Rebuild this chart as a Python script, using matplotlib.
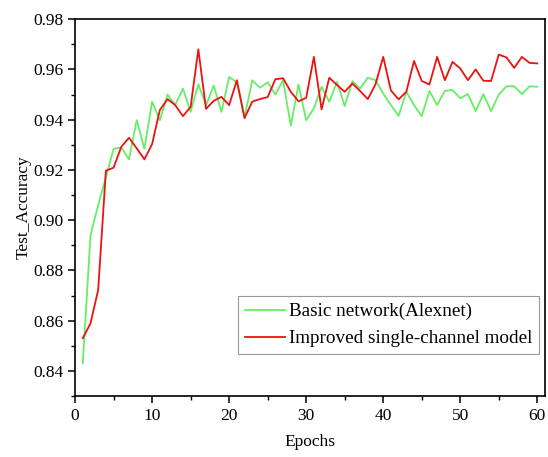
import numpy as np
import matplotlib.pyplot as plt
from matplotlib.ticker import MultipleLocator

plt.rcParams['font.family'] = ['Liberation Serif', 'DejaVu Serif']

epochs = np.arange(1, 61)

# Basic network (Alexnet)
basic = [0.843, 0.894, 0.906, 0.917, 0.9284, 0.9289, 0.9242, 0.9398, 0.9284, 0.9471,
         0.9398, 0.9500, 0.9458, 0.9524, 0.9431, 0.9541, 0.9458, 0.9536, 0.9431, 0.9570,
         0.9548, 0.9410, 0.9557, 0.9527, 0.9549, 0.9500, 0.9557, 0.9376, 0.9540, 0.9398,
         0.9445, 0.9531, 0.9471, 0.9551, 0.9454, 0.9553, 0.9524, 0.9567, 0.9557, 0.9504,
         0.9458, 0.9415, 0.9511, 0.9458, 0.9414, 0.9514, 0.9458, 0.9515, 0.9518, 0.9485,
         0.9502, 0.9434, 0.9502, 0.9434, 0.9500, 0.9533, 0.9533, 0.9502, 0.9533, 0.9531]

# Improved single-channel model
improved = [0.853, 0.8589, 0.8722, 0.9197, 0.9209, 0.9292, 0.9328, 0.9286, 0.9242, 0.9303,
            0.9438, 0.9482, 0.9458, 0.9414, 0.9451, 0.9680, 0.9443, 0.9475, 0.9491, 0.9458,
            0.9557, 0.9406, 0.9472, 0.9482, 0.9490, 0.9561, 0.9565, 0.9511, 0.9473, 0.9487,
            0.9650, 0.9441, 0.9567, 0.9538, 0.9511, 0.9544, 0.9514, 0.9482, 0.9541, 0.9650,
            0.9516, 0.9481, 0.9511, 0.9634, 0.9554, 0.9540, 0.9650, 0.9557, 0.9630, 0.9604,
            0.9557, 0.9600, 0.9555, 0.9554, 0.9659, 0.9648, 0.9606, 0.9650, 0.9626, 0.9624]

fig = plt.figure(figsize=(5.48, 4.57), dpi=100)
ax = fig.add_axes([0.137, 0.1335, 0.8575, 0.8245])

ax.plot(epochs, basic, color='#66ee66', lw=1.3, label='Basic network(Alexnet)')
ax.plot(epochs, improved, color='#ee1111', lw=1.3, label='Improved single-channel model')

ax.set_xlim(0, 61)
ax.set_ylim(0.83, 0.98)
ax.xaxis.set_major_locator(MultipleLocator(10))
ax.xaxis.set_minor_locator(MultipleLocator(5))
ax.yaxis.set_major_locator(MultipleLocator(0.02))
ax.yaxis.set_minor_locator(MultipleLocator(0.01))
ax.yaxis.set_major_formatter(plt.FormatStrFormatter('%.2f'))
ax.tick_params(which='major', direction='out', length=5, width=1.1, labelsize=12.5)
ax.tick_params(which='minor', direction='out', length=3, width=1.0)
for s in ax.spines.values():
    s.set_linewidth(1.2)

ax.set_xlabel('Epochs', fontsize=12.5, labelpad=7)
ax.set_ylabel('Test_Accuracy', fontsize=12.5, labelpad=1)

leg = ax.legend(loc='lower left', bbox_to_anchor=(0.347, 0.111), fontsize=13.8,
                fancybox=False, edgecolor='#999999', framealpha=1,
                handlelength=2.1, borderpad=0.35, labelspacing=0.5, handletextpad=0.2,
                borderaxespad=0.0)
leg.get_frame().set_linewidth(0.8)

fig.savefig('out.png', dpi=100)
